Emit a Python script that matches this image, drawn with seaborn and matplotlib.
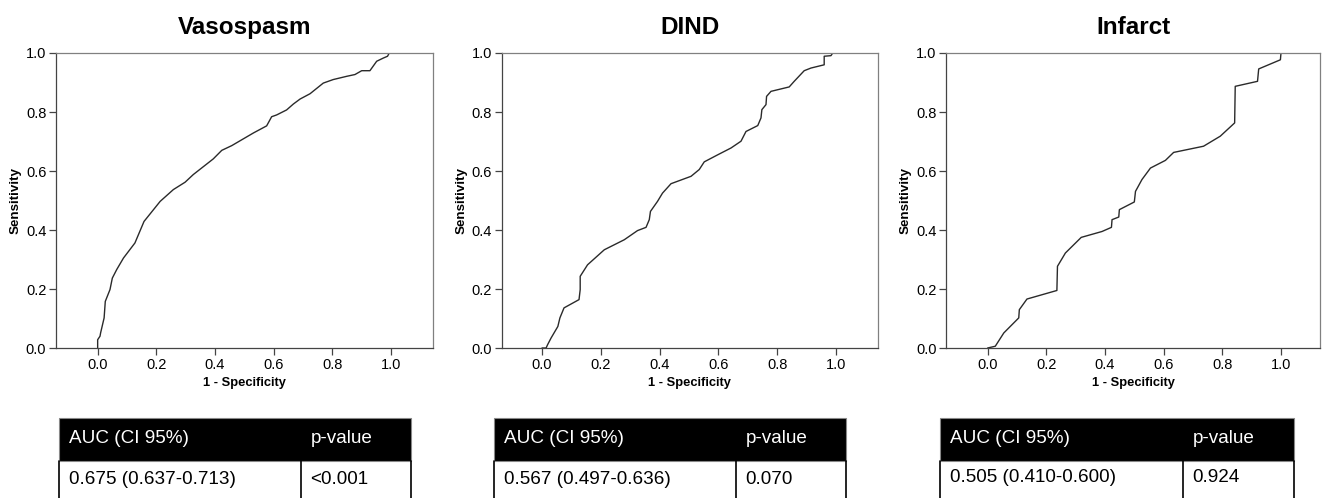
import numpy as np
import pandas as pd
import matplotlib
matplotlib.use("Agg")
import matplotlib.pyplot as plt
from matplotlib.patches import Rectangle
import seaborn as sns

# ---------------- data ----------------
titles = ["Vasospasm", "DIND", "Infarct"]

vaso_fpr = [0, 0, 0.008, 0.01, 0.022, 0.026, 0.042, 0.05, 0.065, 0.088, 0.127, 0.158, 0.213,
            0.258, 0.298, 0.326, 0.394, 0.423, 0.457, 0.531, 0.576, 0.593, 0.610, 0.644,
            0.667, 0.690, 0.724, 0.769, 0.803, 0.849, 0.877, 0.900, 0.928, 0.951, 0.974,
            0.988, 0.994, 1.0]
vaso_tpr = [0, 0.028, 0.04, 0.051, 0.102, 0.158, 0.198, 0.237, 0.266, 0.305, 0.356, 0.429,
            0.497, 0.537, 0.562, 0.588, 0.641, 0.670, 0.686, 0.729, 0.753, 0.784, 0.790,
            0.807, 0.827, 0.844, 0.862, 0.898, 0.910, 0.921, 0.927, 0.940, 0.940, 0.972,
            0.983, 0.989, 1.0, 1.0]

dind_fpr = [0, 0.014, 0.019, 0.031, 0.054, 0.061, 0.075, 0.126, 0.130, 0.130, 0.155, 0.212,
            0.280, 0.325, 0.354, 0.365, 0.369, 0.393, 0.410, 0.439, 0.507, 0.535, 0.552,
            0.598, 0.643, 0.677, 0.694, 0.734, 0.745, 0.748, 0.762, 0.764, 0.779, 0.841,
            0.858, 0.892, 0.915, 0.960, 0.960, 0.983, 0.989, 1.0]
dind_tpr = [0, 0, 0.011, 0.034, 0.073, 0.102, 0.136, 0.164, 0.198, 0.243, 0.282, 0.333,
            0.367, 0.398, 0.409, 0.435, 0.463, 0.497, 0.525, 0.557, 0.582, 0.605, 0.631,
            0.655, 0.678, 0.701, 0.734, 0.754, 0.780, 0.808, 0.825, 0.853, 0.870, 0.885,
            0.904, 0.940, 0.949, 0.960, 0.989, 0.991, 1.0, 1.0]

inf_fpr = [0, 0.026, 0.055, 0.106, 0.108, 0.134, 0.236, 0.238, 0.265, 0.319, 0.390, 0.422,
           0.424, 0.447, 0.449, 0.500, 0.504, 0.526, 0.555, 0.606, 0.634, 0.736, 0.793,
           0.842, 0.844, 0.920, 0.924, 0.998, 1.0]
inf_tpr = [0, 0.006, 0.051, 0.102, 0.130, 0.166, 0.195, 0.277, 0.322, 0.375, 0.395, 0.409,
           0.435, 0.444, 0.469, 0.495, 0.531, 0.571, 0.610, 0.636, 0.663, 0.684, 0.718,
           0.763, 0.887, 0.904, 0.946, 0.977, 1.0]

fprs = [vaso_fpr, dind_fpr, inf_fpr]
tprs = [vaso_tpr, dind_tpr, inf_tpr]

x_ticks = [0.0, 0.2, 0.4, 0.6, 0.8, 1.0]
y_ticks = [0.0, 0.2, 0.4, 0.6, 0.8, 1.0]
x_label = "1 - Specificity"
y_label = "Sensitivity"

table_header = ["AUC (CI 95%)", "p-value"]
auc_ci = ["0.675 (0.637-0.713)", "0.567 (0.497-0.636)", "0.505 (0.410-0.600)"]
p_values = ["<0.001", "0.070", "0.924"]

# ---------------- style ----------------
sns.set_theme(style="white")
plt.rcParams["font.family"] = ["Liberation Sans", "DejaVu Sans"]
plt.rcParams["text.color"] = "black"
plt.rcParams["axes.labelcolor"] = "black"

W, H = 1323, 498
fig = plt.figure(figsize=(W / 100, H / 100), dpi=100)

axes_px = [(56, 433), (501.7, 877.7), (946.3, 1320)]
ax_top, ax_bot = 53, 348
xlims = [(-0.142, 1.143), (-0.137, 1.142), (-0.141, 1.133)]

for i in range(3):
    l, r = axes_px[i]
    ax = fig.add_axes([l / W, 1 - ax_bot / H, (r - l) / W, (ax_bot - ax_top) / H])
    df = pd.DataFrame({"fpr": fprs[i], "tpr": tprs[i]})
    sns.lineplot(data=df, x="fpr", y="tpr", sort=False, estimator=None,
                 color="#2a2a2a", linewidth=1.0, ax=ax)
    ax.set_xlim(*xlims[i])
    ax.set_ylim(0, 1.0)
    ax.set_xticks(x_ticks)
    ax.set_yticks(y_ticks)
    ax.set_xticklabels([f"{t:.1f}" for t in x_ticks])
    ax.set_yticklabels([f"{t:.1f}" for t in y_ticks])
    ax.tick_params(axis="both", which="both", direction="out", length=5, width=0.9,
                   color="#444444", labelsize=10.5, labelcolor="black", pad=2,
                   bottom=True, left=True)
    for s in ax.spines.values():
        s.set_color("#808080")
        s.set_linewidth(0.9)
    ax.spines["left"].set_color("#444444")
    ax.spines["bottom"].set_color("#444444")
    ax.set_xlabel(x_label, fontsize=9.3, fontweight="bold", labelpad=4, color="black")
    ax.set_ylabel(y_label, fontsize=9.6, fontweight="bold", labelpad=3, color="black")
    ax.set_title(titles[i], fontsize=17.5, fontweight="bold", pad=14, color="black")

# ---------------- tables ----------------
tables_px = [(59, 301, 411), (494, 736, 846), (940, 1183, 1294)]
t_top, t_mid = 418, 461
for i in range(3):
    l, d, r = tables_px[i]
    tax = fig.add_axes([0, 0, 1, 1], facecolor="none")
    tax.set_xlim(0, W)
    tax.set_ylim(H, 0)
    tax.axis("off")
    tax.add_patch(Rectangle((l, t_top), r - l, t_mid - t_top, facecolor="black",
                            edgecolor="#888888", linewidth=0.8))
    tax.plot([l, l], [t_mid, H + 2], color="black", lw=1.2, clip_on=False)
    tax.plot([d, d], [t_mid, H + 2], color="black", lw=1.2, clip_on=False)
    tax.plot([r, r], [t_mid, H + 2], color="black", lw=1.2, clip_on=False)
    ty = 438
    tax.text(l + 10, ty, table_header[0], color="white", fontsize=13.6, va="center", ha="left")
    tax.text(d + 10, ty, table_header[1], color="white", fontsize=13.6, va="center", ha="left")
    dy = 479 if i < 2 else 477
    tax.text(l + 10, dy, auc_ci[i], color="black", fontsize=13.6, va="center", ha="left")
    tax.text(d + 9, dy, p_values[i], color="black", fontsize=13.6, va="center", ha="left")

fig.savefig("out.png", dpi=100)
